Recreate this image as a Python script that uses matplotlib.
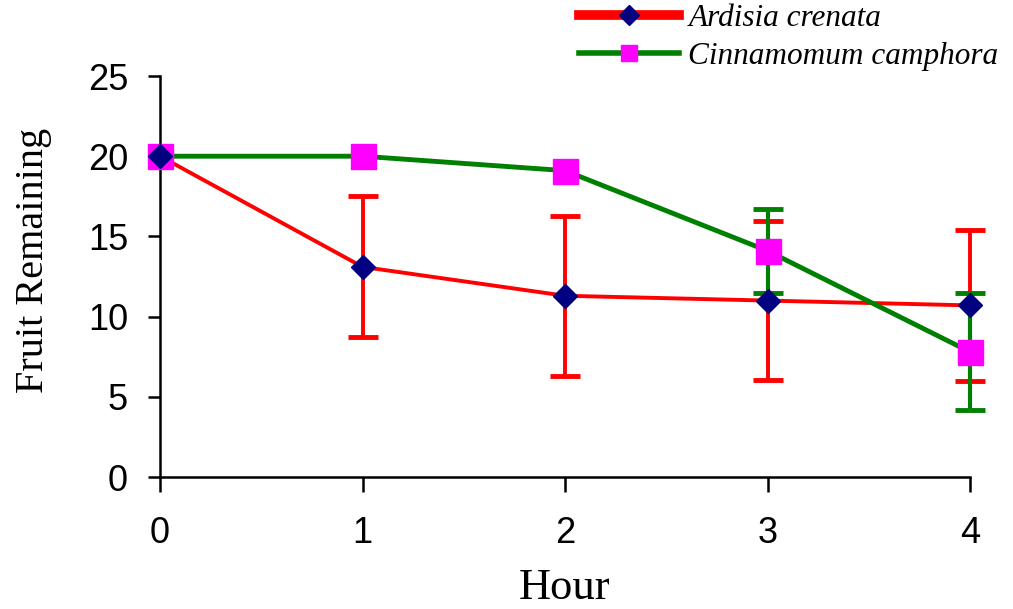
import matplotlib.pyplot as plt
from matplotlib.lines import Line2D

# data
hours = [0, 1, 2, 3, 4]
ardisia = [20, 13.1, 11.3, 11.0, 10.7]
ardisia_err = [0, 4.4, 5.0, 4.95, 4.7]
cinnamomum = [20, 20, 19.1, 14.1, 7.8]
cinnamomum_err = [0, 0, 0, 2.6, 3.65]
y_ticks = [0, 5, 10, 15, 20, 25]

fig = plt.figure(figsize=(10.13, 6.09), dpi=100)
ax = fig.add_axes([0.158, 0.2167, 0.7996, 0.6585])

# error bars first, lines and markers on top
ax.errorbar(hours[1:], ardisia[1:], yerr=ardisia_err[1:], fmt='none',
            ecolor='#ff0000', elinewidth=2.8, capsize=11, capthick=3.5,
            zorder=2, clip_on=False)
ax.errorbar(hours[3:], cinnamomum[3:], yerr=cinnamomum_err[3:], fmt='none',
            ecolor='#008000', elinewidth=3, capsize=11, capthick=3.5,
            zorder=2.5, clip_on=False)

ax.plot(hours, ardisia, color='#ff0000', lw=2.8, zorder=3, clip_on=False)
ax.plot(hours, cinnamomum, color='#008000', lw=3.5, zorder=3.5, clip_on=False)
ax.plot(hours, ardisia, ls='none', marker='D', ms=12.5, color='#000080',
        zorder=5, clip_on=False)
ax.plot(hours, cinnamomum, ls='none', marker='s', ms=18, color='#ff00ff',
        zorder=4, clip_on=False)

ax.set_xlim(0, 4)
ax.set_ylim(0, 25)
ax.set_xticks(hours)
ax.set_yticks(y_ticks)
for s in ['top', 'right']:
    ax.spines[s].set_visible(False)
for s in ['left', 'bottom']:
    ax.spines[s].set_linewidth(1.8)
ax.tick_params(axis='y', length=9, width=1.8, pad=14)
ax.tick_params(axis='x', length=11, width=1.8, pad=17)
for lab in ax.get_xticklabels() + ax.get_yticklabels():
    lab.set_family('Liberation Sans')
    lab.set_fontsize(26)

ax.set_xlabel('Hour', family='Liberation Serif', fontsize=32, labelpad=12)
ax.set_ylabel('Fruit Remaining', family='Liberation Serif', fontsize=29)
ax.yaxis.set_label_coords(-0.133, 0.54)

handles = [
    Line2D([], [], color='#ff0000', lw=7, marker='D', ms=10,
           markerfacecolor='#000080', markeredgecolor='#000080'),
    Line2D([], [], color='#008000', lw=4, marker='s', ms=11,
           markerfacecolor='#ff00ff', markeredgecolor='#ff00ff'),
]
leg = fig.legend(handles, ['Ardisia crenata', 'Cinnamomum camphora'],
                 loc='upper left', bbox_to_anchor=(0.553, 1.024),
                 frameon=False, handlelength=3.2, handletextpad=0.3,
                 borderpad=0.1, labelspacing=0.28,
                 prop={'family': 'Liberation Serif', 'style': 'italic', 'size': 22.5})

fig.savefig('out.png', dpi=100)
